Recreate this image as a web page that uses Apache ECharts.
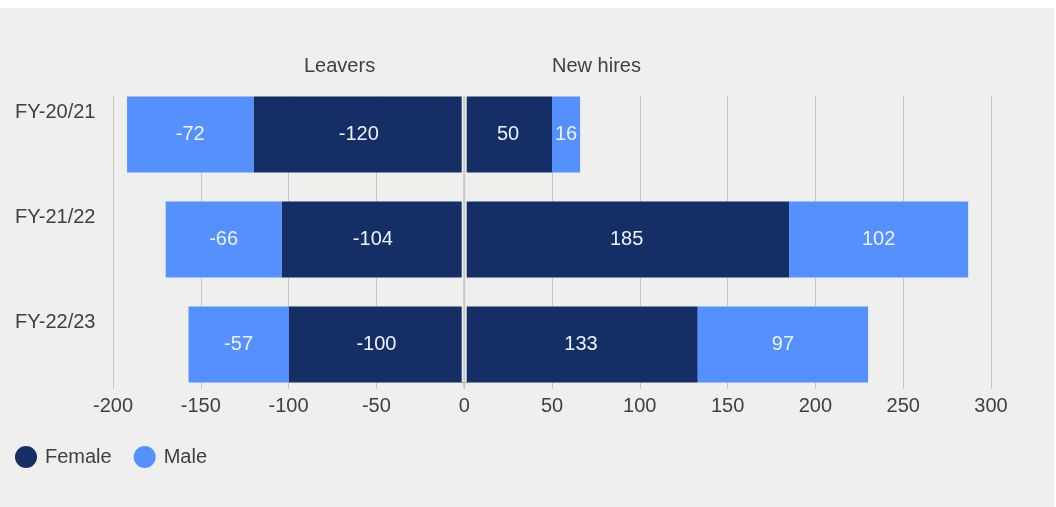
<!DOCTYPE html>
<html>
<head>
<meta charset="utf-8">
<script src="https://cdn.jsdelivr.net/npm/echarts@6/dist/echarts.min.js"></script>
<style>
html,body{margin:0;padding:0;background:#ffffff;}
#wrap{position:absolute;left:0;top:8px;width:1054px;height:499px;background:#efefed;}
#chart{width:1054px;height:499px;}
</style>
</head>
<body>
<div id="wrap"><div id="chart"></div></div>
<script>
const categories = ['FY-20/21', 'FY-21/22', 'FY-22/23'];
const femaleLeavers = [-120, -104, -100];
const maleLeavers = [-72, -66, -57];
const femaleHires = [50, 185, 133];
const maleHires = [16, 102, 97];
const xTicks = { min: -200, max: 300, interval: 50 };
const headers = ['Leavers', 'New hires'];

const FEMALE = '#152E65';
const MALE = '#5591FE';
const TXT = '#404040';
const BG = '#efefed';
const GRID = '#c8c8c8';
const FONT = 'Liberation Sans, Arial, sans-serif';

const chart = echarts.init(document.getElementById('chart'));

function barSeries(name, data, color) {
  return {
    name: name,
    type: 'bar',
    stack: 'all',
    xAxisIndex: 0,
    yAxisIndex: 0,
    data: data,
    barCategoryGap: '27.6%',
    itemStyle: { color: color },
    z: 3,
    label: {
      show: true,
      position: 'inside',
      color: '#eef2fa',
      fontSize: 20,
      fontFamily: FONT
    }
  };
}

const option = {
  animation: false,
  textStyle: { fontFamily: FONT },
  grid: [
    { left: 113, right: 63, top: 74, height: 315 },
    { left: 113, right: 63, top: 88, height: 286 }
  ],
  xAxis: [
    {
      gridIndex: 0, type: 'value', min: xTicks.min, max: xTicks.max, interval: xTicks.interval,
      axisLine: { show: false }, axisTick: { show: false }, axisLabel: { show: false },
      splitLine: { show: false }
    },
    {
      gridIndex: 1, type: 'value', min: xTicks.min, max: xTicks.max, interval: xTicks.interval,
      axisLine: { show: false },
      axisTick: { show: true, length: 7, lineStyle: { color: GRID, width: 1 } },
      axisLabel: { color: TXT, fontSize: 20, margin: 14, fontFamily: FONT },
      splitLine: { show: true, lineStyle: { color: GRID, width: 1 } }
    }
  ],
  yAxis: [
    {
      gridIndex: 0, type: 'category', data: categories, inverse: true,
      axisLine: { show: false }, axisTick: { show: false },
      axisLabel: {
        color: TXT, fontSize: 20, align: 'left', margin: 98,
        verticalAlign: 'bottom', lineHeight: 44, fontFamily: FONT
      }
    },
    {
      gridIndex: 1, type: 'value', min: 0, max: 1, show: false
    }
  ],
  legend: {
    left: 10, top: 433,
    icon: 'circle', itemWidth: 22, itemHeight: 22, itemGap: 22,
    textStyle: { color: TXT, fontSize: 20, fontFamily: FONT, padding: [0, 0, 0, 3] },
    data: ['Female', 'Male']
  },
  graphic: [
    { type: 'text', left: 304, top: 48, style: { text: headers[0], fill: TXT, font: '20px ' + FONT } },
    { type: 'text', left: 552, top: 48, style: { text: headers[1], fill: TXT, font: '20px ' + FONT } }
  ],
  series: [
    barSeries('Female', femaleLeavers, FEMALE),
    barSeries('Male', maleLeavers, MALE),
    barSeries('Female', femaleHires, FEMALE),
    barSeries('Male', maleHires, MALE),
    {
      name: 'zero',
      type: 'custom',
      xAxisIndex: 1,
      yAxisIndex: 1,
      data: [[0]],
      z: 10,
      silent: true,
      clip: false,
      renderItem: function (params, api) {
        const top = api.coord([api.value(0), 1]);
        const bottom = api.coord([api.value(0), 0]);
        return {
          type: 'group',
          children: [
            {
              type: 'rect',
              shape: { x: top[0] - 2.5, y: top[1], width: 5, height: bottom[1] - top[1] },
              style: { fill: BG }
            },
            {
              type: 'rect',
              shape: { x: top[0] - 1, y: top[1], width: 2, height: bottom[1] - top[1] + 7 },
              style: { fill: GRID }
            }
          ]
        };
      }
    }
  ]
};
chart.setOption(option);
</script>
</body>
</html>
